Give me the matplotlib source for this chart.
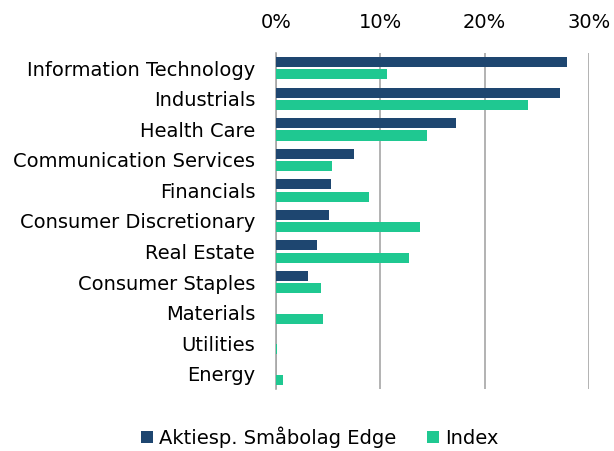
import matplotlib.pyplot as plt
import numpy as np
from matplotlib.ticker import FuncFormatter

plt.rcParams['font.family'] = ['DejaVu Sans']

sectors = ['Information Technology', 'Industrials', 'Health Care',
           'Communication Services', 'Financials', 'Consumer Discretionary',
           'Real Estate', 'Consumer Staples', 'Materials', 'Utilities', 'Energy']
fund = [27.9, 27.2, 17.3, 7.5, 5.3, 5.1, 3.95, 3.1, 0, 0, 0]
index = [10.65, 24.2, 14.5, 5.4, 8.9, 13.8, 12.75, 4.35, 4.55, 0.12, 0.63]

dark = '#1e4670'
green = '#1fc891'

fig = plt.figure(figsize=(6.14, 4.51), dpi=100)
ax = fig.add_axes([0.4495, 0.1375, 0.5095, 0.745])

y = np.arange(len(sectors))
h = 0.33
ax.barh(y - 0.2, fund, height=h, color=dark, label='Aktiesp. Småbolag Edge', zorder=3)
ax.barh(y + 0.2, index, height=h, color=green, label='Index', zorder=3)

ax.set_ylim(len(sectors) - 0.5, -0.5)
ax.set_xlim(0, 30)
ax.set_yticks(y)
ax.set_yticklabels(sectors, fontsize=14)
ax.set_xticks([0, 10, 20, 30])
ax.xaxis.set_major_formatter(FuncFormatter(lambda v, p: f'{v:.0f}%'))
ax.xaxis.tick_top()
ax.tick_params(axis='x', labelsize=14, length=0, pad=15)
ax.tick_params(axis='y', length=0, pad=15)
ax.grid(axis='x', color='#a6a6a6', linewidth=1.2, zorder=0)
for s in ['top', 'right', 'bottom']:
    ax.spines[s].set_visible(False)
ax.spines['left'].set_color('#a6a6a6')
ax.spines['left'].set_linewidth(1.2)

ax.legend(loc='upper center', bbox_to_anchor=(0.14, -0.06), ncol=2, frameon=False,
          fontsize=14, handlelength=0.6, handleheight=0.6, handletextpad=0.3,
          columnspacing=1.6, bbox_transform=ax.transAxes)

fig.savefig('out.png', dpi=100)
